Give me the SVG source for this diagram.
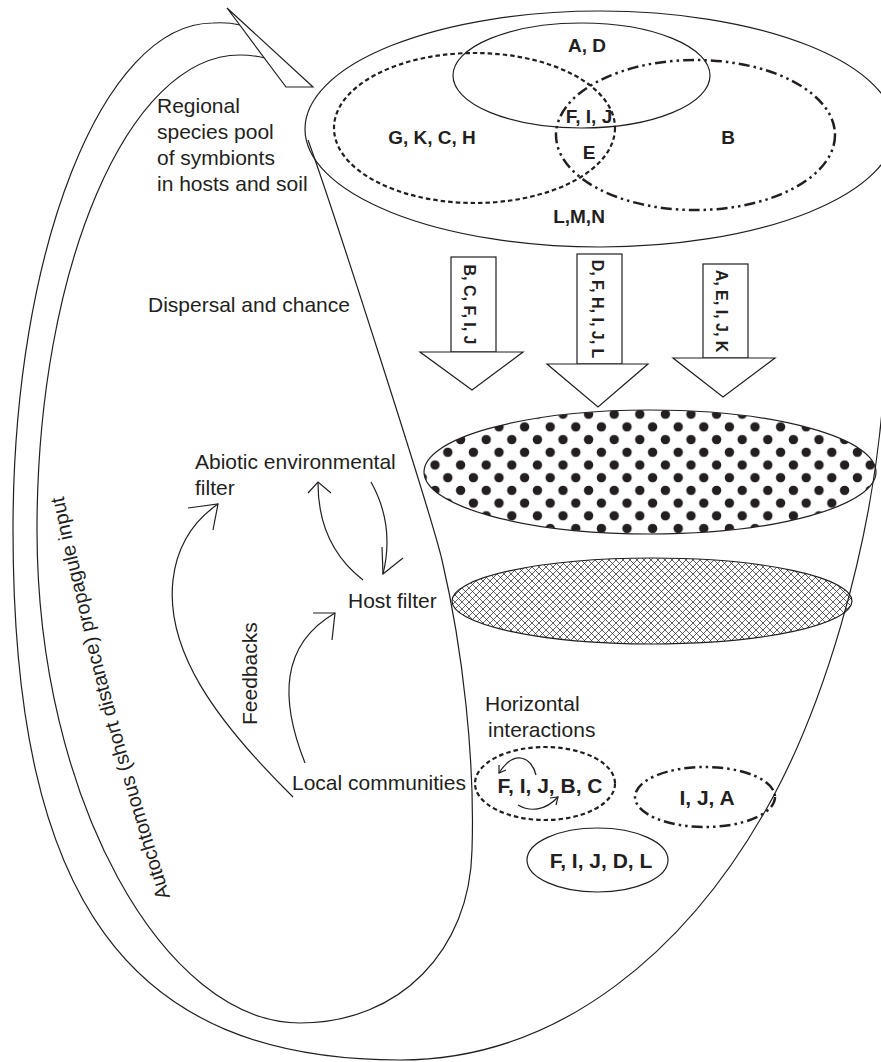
<svg xmlns="http://www.w3.org/2000/svg" width="881" height="1062" viewBox="0 0 881 1062">
<defs>
<style>
.ln{fill:none;stroke:#231f20;stroke-width:1.2}
.wt{fill:#fff;stroke:#231f20;stroke-width:1.2}
.t{font-family:"Liberation Sans",Arial,Helvetica,sans-serif;font-size:21px;fill:#231f20}
.b{font-weight:bold;text-anchor:middle}
.v{font-size:19px}
.s{font-size:16px}
.a{font-size:20px}
.dot{fill:none;stroke:#231f20;stroke-width:2.2;stroke-dasharray:4.5 3}
.dd{fill:none;stroke:#231f20;stroke-width:2.5;stroke-dasharray:11 4 2.5 4 2.5 4}
</style>
<pattern id="dots" patternUnits="userSpaceOnUse" x="428.6" y="458.65" width="25.6" height="25.4">
<circle cx="6.4" cy="6.35" r="4.7" fill="#231f20"/>
<circle cx="19.2" cy="19.05" r="4.7" fill="#231f20"/>
</pattern>
<pattern id="hatch" patternUnits="userSpaceOnUse" width="7" height="7">
<path d="M-1,-1 L8,8 M8,-1 L-1,8" stroke="#231f20" stroke-width="0.7"/>
</pattern>
<path id="autoPath" d="M170,897 C148,824 113,712 92,620 C82,575 70,530 62,488" fill="none"/>
</defs>
<rect width="881" height="1062" fill="#fff"/>

<g id="funnel">
<path class="ln" d="M240,25 Q228,22 213,23 C103,23 13,250 13,530 C13,901 129,1060 400,1060 C560,1060 690,950 773,797 C820,710 870,560 883,400 L895,129"/>
<path class="ln" d="M265,58 Q252,55 240,55 C128,55 37,268 37,530 C37,800 165,1023 300,1023 C400,1023 470,950 472,850 C475,760 463,650 442,560 C430,510 330,200 308,140"/>
<polygon class="wt" points="227,8 313,87 286,87"/>
<text class="t a"><textPath href="#autoPath">Autochtomous (short distance) propagule input</textPath></text>
</g>

<g id="regional-pool">
<ellipse class="ln" cx="600" cy="129" rx="295" ry="118"/>
<ellipse class="ln" cx="581.5" cy="75.5" rx="128.5" ry="52.5"/>
<ellipse class="dot" cx="474.5" cy="128" rx="140.5" ry="75"/>
<ellipse class="dd" cx="695.5" cy="135" rx="139.5" ry="75"/>
<text class="t b v" x="587" y="52">A, D</text>
<text class="t b v" x="432" y="144">G, K, C, H</text>
<text class="t b v" x="589" y="123">F, I, J</text>
<text class="t b v" x="589" y="159">E</text>
<text class="t b v" x="728" y="144">B</text>
<text class="t b v" x="579" y="223">L,M,N</text>
<text class="t" x="157" y="113">Regional</text>
<text class="t" x="157" y="139">species pool</text>
<text class="t" x="157" y="165">of symbionts</text>
<text class="t" x="157" y="191">in hosts and soil</text>
</g>

<g id="dispersal">
<rect class="wt" x="451" y="257" width="45" height="95"/>
<polygon class="wt" points="420,352 523,352 472,390"/>
<text class="t b s" transform="translate(464,304.5) rotate(90)">B, C, F, I, J</text>
<rect class="wt" x="577" y="254" width="45" height="110"/>
<polygon class="wt" points="547,364 648,364 598,407"/>
<text class="t b s" transform="translate(592,309) rotate(90)">D, F, H, I, J, L</text>
<rect class="wt" x="703" y="264" width="45" height="94"/>
<polygon class="wt" points="673,358 775,358 723,397"/>
<text class="t b s" transform="translate(716,311) rotate(90)">A, E, I, J, K</text>
<text class="t" x="148" y="312">Dispersal and chance</text>
</g>

<g id="abiotic-filter">
<ellipse cx="650" cy="472" rx="226" ry="62" fill="url(#dots)" stroke="#231f20" stroke-width="1.2"/>
<text class="t" x="195" y="469">Abiotic environmental</text>
<text class="t" x="195" y="495">filter</text>
</g>

<g id="host-filter">
<ellipse cx="652" cy="601" rx="200" ry="43" fill="url(#hatch)" stroke="#231f20" stroke-width="1.2"/>
<text class="t" x="348" y="608">Host filter</text>
</g>

<g id="local-communities">
<text class="t" x="292" y="790">Local communities</text>
<text class="t" x="485" y="711">Horizontal</text>
<text class="t" x="488" y="737">interactions</text>
<ellipse class="dot" cx="545" cy="783.5" rx="70" ry="36.5"/>
<text class="t b" x="550" y="793">F, I, J, B, C</text>
<ellipse class="dd" cx="705" cy="797" rx="70" ry="30"/>
<text class="t b" x="707" y="805">I, J, A</text>
<ellipse class="ln" cx="597.5" cy="860" rx="70.5" ry="32"/>
<text class="t b" x="601" y="868">F, I, J, D, L</text>
</g>

<g id="connectors">
<path class="ln" d="M293,797 C215,720 165,650 173,580 C177,545 195,520 218,504"/>
<path class="ln" d="M188,508 L218,504 L213,530"/>
<path class="ln" d="M305,763 C280,700 280,645 335,613"/>
<path class="ln" d="M313,613 L335,613 L332,640"/>
<path class="ln" d="M363,580 Q318,545 318,483"/>
<path class="ln" d="M308,493 L318,482 L331,493"/>
<path class="ln" d="M371,482 Q395,525 383,574"/>
<path class="ln" d="M382,547 L383,574 L403,558"/>
<path class="ln" d="M536,775 C532,758 515,748 499,773"/>
<path class="ln" d="M499,765 L499,773 L506,770"/>
<path class="ln" d="M518,805 C530,812 545,811 558,797"/>
<path class="ln" d="M550,798 L558,797 L556,805"/>
<text class="t" transform="translate(257,725) rotate(-90)">Feedbacks</text>
</g>
</svg>
